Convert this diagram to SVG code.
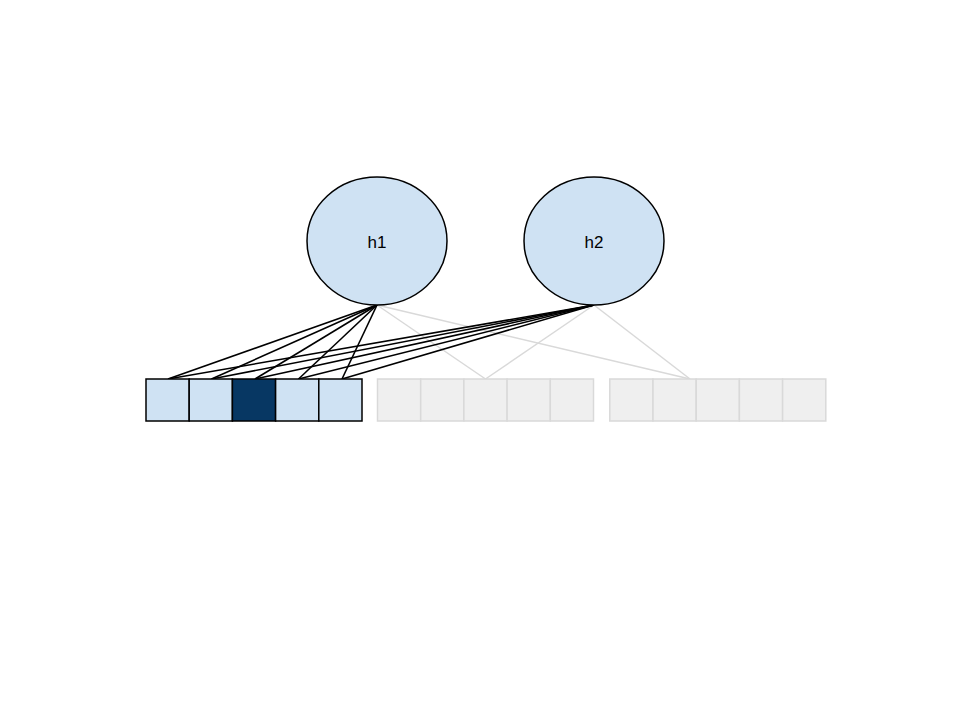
<svg xmlns="http://www.w3.org/2000/svg" width="960" height="720" viewBox="0 0 960 720">
<style>
.node{fill:#cfe2f3;stroke:#000;stroke-width:1.5}
.lbl{font-family:"Liberation Sans",Arial,sans-serif;font-size:17px;fill:#000;text-anchor:middle;dominant-baseline:central}
.cell{fill:#cfe2f3;stroke:#000;stroke-width:1.5}
.dark{fill:#073763;stroke:#000;stroke-width:1.5}
.gcell{fill:#efefef;stroke:#d9d9d9;stroke-width:1.5}
.blk{stroke:#000;stroke-width:1.6;fill:none}
.gry{stroke:#d9d9d9;stroke-width:1.5;fill:none}
</style>
<rect width="960" height="720" fill="#fff"/>
<g id="connectors">
<line class="gry" x1="377" y1="305" x2="485.5" y2="379"/>
<line class="gry" x1="377" y1="305" x2="690" y2="379"/>
<line class="gry" x1="594" y1="305" x2="485.5" y2="379"/>
<line class="gry" x1="594" y1="305" x2="690" y2="379"/>
<line class="blk" x1="377" y1="305" x2="168" y2="379"/>
<line class="blk" x1="377" y1="305" x2="211.5" y2="379"/>
<line class="blk" x1="377" y1="305" x2="255" y2="379"/>
<line class="blk" x1="377" y1="305" x2="298.5" y2="379"/>
<line class="blk" x1="377" y1="305" x2="342" y2="379"/>
<line class="blk" x1="594" y1="305" x2="168" y2="379"/>
<line class="blk" x1="594" y1="305" x2="211.5" y2="379"/>
<line class="blk" x1="594" y1="305" x2="255" y2="379"/>
<line class="blk" x1="594" y1="305" x2="298.5" y2="379"/>
<line class="blk" x1="594" y1="305" x2="342" y2="379"/>
</g>
<g id="h1">
<ellipse class="node" cx="377" cy="241" rx="70" ry="64"/>
<text class="lbl" x="377" y="242">h1</text>
</g>
<g id="h2">
<ellipse class="node" cx="594" cy="241" rx="70" ry="64"/>
<text class="lbl" x="594" y="242">h2</text>
</g>
<g id="group1">
<rect class="cell" x="146" y="379" width="43.2" height="42"/>
<rect class="cell" x="189.2" y="379" width="43.2" height="42"/>
<rect class="dark" x="232.4" y="379" width="43.2" height="42"/>
<rect class="cell" x="275.6" y="379" width="43.2" height="42"/>
<rect class="cell" x="318.8" y="379" width="43.2" height="42"/>
</g>
<g id="group2">
<rect class="gcell" x="377.5" y="379" width="43.2" height="42"/>
<rect class="gcell" x="420.7" y="379" width="43.2" height="42"/>
<rect class="gcell" x="463.9" y="379" width="43.2" height="42"/>
<rect class="gcell" x="507.1" y="379" width="43.2" height="42"/>
<rect class="gcell" x="550.3" y="379" width="43.2" height="42"/>
</g>
<g id="group3">
<rect class="gcell" x="609.8" y="379" width="43.2" height="42"/>
<rect class="gcell" x="653" y="379" width="43.2" height="42"/>
<rect class="gcell" x="696.2" y="379" width="43.2" height="42"/>
<rect class="gcell" x="739.4" y="379" width="43.2" height="42"/>
<rect class="gcell" x="782.6" y="379" width="43.2" height="42"/>
</g>
</svg>
